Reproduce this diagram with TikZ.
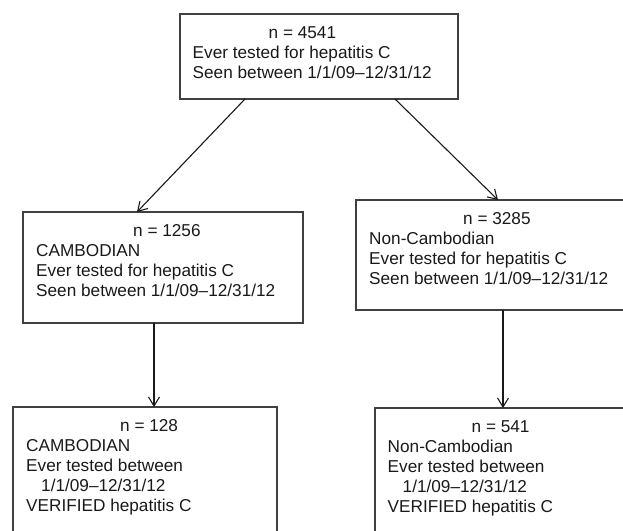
\documentclass[tikz,border=0pt]{standalone}
\usepackage{fontspec}
\setmainfont{Liberation Sans}
\usetikzlibrary{positioning,arrows.meta}

\begin{document}
\begin{tikzpicture}[
  x=1pt, y=-1pt,
  font=\fontsize{17.2}{20}\selectfont, >={Straight Barb[length=9pt,width=11pt]},
  box/.style={draw=black!75, line width=1.3pt, inner sep=0pt, outer sep=0pt, anchor=north west},
  txt/.style={align=left, inner sep=0pt, anchor=north west, text=black!90},
  arr/.style={->, line width=1.1pt, black!90},
]
\clip (0,0) rectangle (623,530);
% ---- all patients ----
\node[box, minimum width=278pt, minimum height=85pt] (all) at (180,14) {};
\node[txt] (allt) at ([xshift=12.5pt,yshift=-12pt]all.north west)
  {\hspace*{76pt}n = 4541\\ Ever tested for hepatitis C\\ Seen between 1/1/09--12/31/12};
% ---- cambodian branch ----
\node[box, minimum width=280pt, minimum height=111pt] (camb) at (23,212) {};
\node[txt] (cambt) at ([xshift=13pt,yshift=-12pt]camb.north west)
  {\hspace*{97pt}n = 1256\\ CAMBODIAN\\ Ever tested for hepatitis C\\ Seen between 1/1/09--12/31/12};
\node[box, minimum width=264pt, minimum height=140pt] (cambv) at (13,407) {};
\node[txt] (cambvt) at ([xshift=13pt,yshift=-12pt]cambv.north west)
  {\hspace*{94pt}n = 128\\ CAMBODIAN\\ Ever tested between\\ \hspace*{15pt}1/1/09--12/31/12\\ VERIFIED hepatitis C};
% ---- non-cambodian branch ----
\node[box, minimum width=284pt, minimum height=110pt] (ncamb) at (356,200) {};
\node[txt] (ncambt) at ([xshift=13pt,yshift=-12pt]ncamb.north west)
  {\hspace*{94pt}n = 3285\\ Non-Cambodian\\ Ever tested for hepatitis C\\ Seen between 1/1/09--12/31/12};
\node[box, minimum width=270pt, minimum height=140pt] (ncambv) at (375,408) {};
\node[txt] (ncambvt) at ([xshift=12.5pt,yshift=-12pt]ncambv.north west)
  {\hspace*{84pt}n = 541\\ Non-Cambodian\\ Ever tested between\\ \hspace*{15pt}1/1/09--12/31/12\\ VERIFIED hepatitis C};
% ---- arrows ----
\draw[arr] ([xshift=65pt]all.south west) -- ([xshift=114pt]camb.north west);
\draw[arr] ([xshift=-63pt]all.south east) -- ([xshift=142pt]ncamb.north west);
\draw[arr] ([xshift=131pt]camb.south west) -- ([xshift=141pt]cambv.north west);
\draw[arr] ([xshift=147pt]ncamb.south west) -- ([xshift=128pt]ncambv.north west);
\end{tikzpicture}
\end{document}
